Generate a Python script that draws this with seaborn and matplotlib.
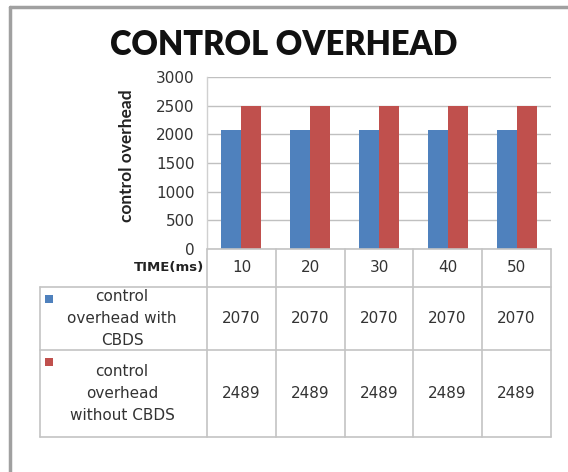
import matplotlib
matplotlib.use("Agg")
import matplotlib.pyplot as plt
from matplotlib.lines import Line2D
from matplotlib.patches import Rectangle
import seaborn as sns
import pandas as pd

# Data
times = ["10", "20", "30", "40", "50"]
with_cbds = [2070, 2070, 2070, 2070, 2070]
without_cbds = [2489, 2489, 2489, 2489, 2489]
series_names = ["control overhead with CBDS", "control overhead without CBDS"]
row_labels = ["control\noverhead with\nCBDS", "control\noverhead\nwithout CBDS"]
y_ticks = [0, 500, 1000, 1500, 2000, 2500, 3000]

colors = ["#4F81BD", "#C0504D"]

df = pd.DataFrame({
    "time": times * 2,
    "value": with_cbds + without_cbds,
    "series": [series_names[0]] * len(times) + [series_names[1]] * len(times),
})

sns.set_theme(style="white")
plt.rcParams["font.family"] = ["DejaVu Sans"]

W, H = 568, 472
fig = plt.figure(figsize=(W / 100, H / 100), dpi=100)
fig.patch.set_facecolor("white")


def fx(x):
    return x / W


def fy(y):
    return 1 - y / H


# Plot area geometry (pixels)
ax_l, ax_r, ax_t, ax_b = 207, 551, 77, 249
ax = fig.add_axes([fx(ax_l), fy(ax_b), fx(ax_r - ax_l), (ax_b - ax_t) / H])

sns.barplot(data=df, x="time", y="value", hue="series", palette=colors,
            width=0.58, gap=0, dodge=True, saturation=1, ax=ax, legend=False,
            linewidth=0, edgecolor="none")

ax.set_ylim(0, 3000)
ax.set_xlim(-0.5, len(times) - 0.5)
ax.set_yticks(y_ticks)
ax.set_yticklabels([str(v) for v in y_ticks], fontsize=11, color="#333333")
ax.tick_params(axis="y", length=0, pad=9)
ax.set_xticks([])
ax.set_xlabel("")
ax.set_ylabel("")
ax.yaxis.grid(True, color="#c0c0c0", linewidth=1)
ax.set_axisbelow(True)
for side in ["top", "right", "bottom"]:
    ax.spines[side].set_visible(False)
ax.spines["left"].set_color("#d0d0d0")
ax.spines["left"].set_linewidth(1)

# Title and axis label
fig.text(fx(284), fy(45), "CONTROL OVERHEAD", ha="center", va="center",
         fontsize=23.5, fontweight="heavy", family=["Lato", "DejaVu Sans"], color="#111111")
fig.text(fx(127), fy(156), "control overhead", ha="center", va="center",
         rotation=90, fontsize=12.5, fontweight="bold", family=["Lato", "DejaVu Sans"],
         color="#222222")

# Data table below the plot
line_kw = dict(color="#c4c4c4", linewidth=1.2)
col_edges = [207, 276, 345, 413, 482, 551]
row_edges = [249, 287, 350, 437]
tbl_left = 40

# horizontal lines
fig.add_artist(Line2D([fx(ax_l), fx(ax_r)], [fy(249), fy(249)], transform=fig.transFigure, **line_kw))
for y in row_edges[1:]:
    fig.add_artist(Line2D([fx(tbl_left), fx(ax_r)], [fy(y), fy(y)], transform=fig.transFigure, **line_kw))
# vertical lines
for x in col_edges:
    fig.add_artist(Line2D([fx(x), fx(x)], [fy(249), fy(437)], transform=fig.transFigure, **line_kw))
fig.add_artist(Line2D([fx(tbl_left), fx(tbl_left)], [fy(287), fy(437)], transform=fig.transFigure, **line_kw))

cell_kw = dict(ha="center", va="center", fontsize=11, color="#333333")
fig.text(fx(204), fy(268), "TIME(ms)", ha="right", va="center", fontsize=9.5,
         fontweight="bold", color="#222222")
for i, t in enumerate(times):
    cx = (col_edges[i] + col_edges[i + 1]) / 2
    fig.text(fx(cx), fy(268), t, **cell_kw)

for r, (vals, lab, c) in enumerate(zip([with_cbds, without_cbds], row_labels, colors)):
    top, bot = row_edges[r + 1], row_edges[r + 2]
    cy = (top + bot) / 2
    fig.text(fx(122), fy(cy), lab, ha="center", va="center", fontsize=11,
             color="#333333", linespacing=1.6)
    fig.add_artist(Rectangle((fx(45), fy(top + 16)), 8 / W, 8 / H,
                             transform=fig.transFigure, color=c, lw=0))
    for i, v in enumerate(vals):
        cx = (col_edges[i] + col_edges[i + 1]) / 2
        fig.text(fx(cx), fy(cy), str(v), **cell_kw)

# Outer chart frame
frame_kw = dict(color="#a0a0a0", linewidth=2.5)
fig.add_artist(Line2D([fx(10), fx(W)], [fy(7), fy(7)], transform=fig.transFigure, **frame_kw))
fig.add_artist(Line2D([fx(10), fx(10)], [fy(7), fy(H)], transform=fig.transFigure, **frame_kw))

fig.savefig("out.png", dpi=100)
